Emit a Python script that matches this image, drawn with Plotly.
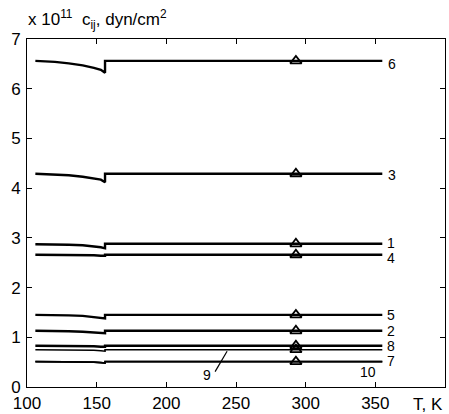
import plotly.graph_objects as go

# ---- data ----
T = [106, 120, 130, 140, 148, 153, 156, 156, 355]
series_names = ["6", "3", "1", "4", "5", "2", "8", "9", "7", "10"]
c6 = [6.56, 6.54, 6.51, 6.47, 6.42, 6.38, 6.32, 6.56, 6.56]
c3 = [4.29, 4.28, 4.26, 4.23, 4.20, 4.17, 4.12, 4.29, 4.29]
c1 = [2.87, 2.87, 2.86, 2.85, 2.83, 2.81, 2.79, 2.88, 2.88]
c4 = [2.66, 2.66, 2.66, 2.66, 2.65, 2.64, 2.64, 2.66, 2.66]
c5 = [1.45, 1.45, 1.44, 1.43, 1.41, 1.40, 1.38, 1.45, 1.45]
c2 = [1.13, 1.13, 1.12, 1.11, 1.10, 1.09, 1.08, 1.13, 1.13]
c8 = [0.83, 0.83, 0.83, 0.82, 0.82, 0.81, 0.81, 0.83, 0.83]
c9 = [0.75, 0.75, 0.75, 0.74, 0.74, 0.73, 0.72, 0.75, 0.75]
c7 = [0.51, 0.51, 0.51, 0.50, 0.50, 0.49, 0.48, 0.51, 0.51]
c10 = [0.51, 0.51, 0.51, 0.50, 0.50, 0.49, 0.48, 0.51, 0.51]
series = [c6, c3, c1, c4, c5, c2, c8, c9, c7, c10]
widths = [2.4, 2.4, 2.4, 2.4, 2.4, 2.4, 2.4, 1.6, 1.6, 1.6]

T_room = 293
room_series = ["6", "3", "1", "4", "5", "2", "8", "9", "7"]
room_vals = [6.56, 4.29, 2.88, 2.66, 1.45, 1.13, 0.83, 0.75, 0.51]

label_text = ["6", "3", "1", "4", "5", "2", "8", "7"]
label_x = [358, 358, 357, 357, 357, 357, 357, 357]
label_y = [6.50, 4.27, 2.89, 2.60, 1.45, 1.13, 0.83, 0.52]
label10_xy = (345, 0.30)
label9_xy = (229.5, 0.25)
leader9 = ([235, 243.6], [0.31, 0.72])

x_ticks = [100, 150, 200, 250, 300, 350]
y_ticks = [0, 1, 2, 3, 4, 5, 6, 7]

FONT = "Liberation Sans, Arial, Helvetica, sans-serif"

fig = go.Figure()
for name, ys, w in zip(series_names, series, widths):
    fig.add_trace(go.Scatter(x=T, y=ys, mode="lines", name=name,
                             line=dict(color="black", width=w),
                             showlegend=False, hoverinfo="skip"))

fig.add_trace(go.Scatter(x=[T_room] * len(room_vals), y=room_vals, mode="markers",
                         marker=dict(symbol="triangle-up-open", size=10,
                                     color="black", line=dict(width=1.8, color="black")),
                         showlegend=False, hoverinfo="skip"))

fig.add_trace(go.Scatter(x=leader9[0], y=leader9[1], mode="lines",
                         line=dict(color="black", width=1.2),
                         showlegend=False, hoverinfo="skip"))

for t, lx, ly in zip(label_text, label_x, label_y):
    fig.add_annotation(x=lx, y=ly, text=t, showarrow=False, xanchor="left",
                       yanchor="middle", font=dict(size=14, color="black", family=FONT))
fig.add_annotation(x=label10_xy[0], y=label10_xy[1], text="10", showarrow=False,
                   xanchor="center", yanchor="middle",
                   font=dict(size=14, color="black", family=FONT))
fig.add_annotation(x=label9_xy[0], y=label9_xy[1], text="9", showarrow=False,
                   xanchor="center", yanchor="middle",
                   font=dict(size=14, color="black", family=FONT))

fig.add_annotation(xref="paper", yref="paper", x=-0.002, y=1.0, yshift=5,
                   text="x 10<sup>11</sup>  c<sub>ij</sub>, dyn/cm<sup>2</sup>",
                   showarrow=False, xanchor="left", yanchor="bottom",
                   font=dict(size=17, color="black", family=FONT))
fig.add_annotation(xref="paper", yref="paper", x=1.0, y=0, yshift=-17,
                   text="T, K", showarrow=False, xanchor="right", yanchor="middle",
                   font=dict(size=17, color="black", family=FONT))

axis_common = dict(showgrid=False, zeroline=False, showline=True, linecolor="black",
                   linewidth=1, mirror="ticks", ticks="inside", ticklen=5,
                   tickcolor="black", tickwidth=1, automargin=False,
                   tickfont=dict(size=17, color="black", family=FONT))
fig.update_xaxes(range=[100, 400], tickvals=x_ticks, ticklabelstandoff=1, **axis_common)
fig.update_yaxes(range=[0, 7], tickvals=y_ticks, ticklabelstandoff=2, **axis_common)

fig.update_layout(width=449, height=414,
                  margin=dict(l=27, r=4, t=39, b=27),
                  plot_bgcolor="white", paper_bgcolor="white",
                  font=dict(family=FONT, color="black"))

fig.write_html("out.html")
